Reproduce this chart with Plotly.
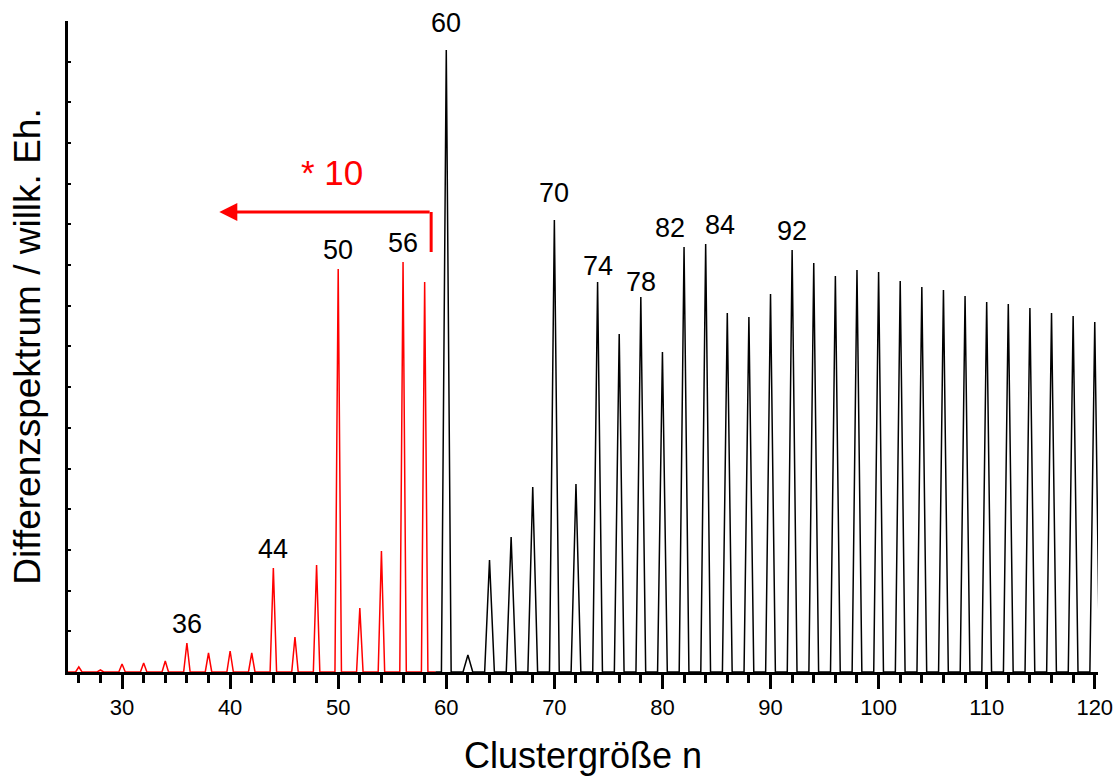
import plotly.graph_objects as go

# Cluster sizes and peak heights (arbitrary units)
red_n = [26, 28, 30, 32, 34, 36, 38, 40, 42, 44, 46, 48, 50, 52, 54, 56, 58]
red_h = [5, 2, 8, 9, 11, 29, 19, 21, 19, 104, 35, 107, 403, 64, 121, 410, 390]
black_n = [60, 62, 64, 66, 68, 70, 72, 74, 76, 78, 80, 82, 84, 86, 88, 90, 92, 94,
           96, 98, 100, 102, 104, 106, 108, 110, 112, 114, 116, 118, 120]
black_h = [622, 17, 112, 135, 185, 452, 188, 390, 338, 375, 320, 425, 428, 359, 355,
           378, 422, 409, 396, 402, 400, 391, 385, 382, 376, 370, 368, 364, 359, 356, 350]

label_n = [36, 44, 50, 56, 60, 70, 74, 78, 82, 84, 92]
label_dx = [0, 0, 0, 0, 0, 0, 0, 0, -14, 14, 0]
label_dy = [0, 0, 0, 0, 8, 8, -3, -4, 0, 0, 0]
x_ticks = [30, 40, 50, 60, 70, 80, 90, 100, 110, 120]


def peaks(ns, hs, hw):
    xs, ys = [], []
    for n, h in zip(ns, hs):
        xs += [n - hw, n, n + hw]
        ys += [0, h, 0]
    return xs, ys


rx, ry = peaks(red_n, red_h, 0.3)
bx, by = peaks(black_n, black_h, 0.45)

FONT = "Liberation Sans, Arial"

fig = go.Figure()
fig.add_trace(go.Scatter(x=[25] + rx + [59], y=[0] + ry + [0], mode="lines",
                         line=dict(color="red", width=1.5), showlegend=False))
fig.add_trace(go.Scatter(x=[59] + bx + [121], y=[0] + by + [0], mode="lines",
                         line=dict(color="black", width=1.5), showlegend=False))

allh = dict(zip(red_n + black_n, red_h + black_h))
for n, dx, dy in zip(label_n, label_dx, label_dy):
    fig.add_annotation(x=n, y=allh[n], text=str(n), showarrow=False, yanchor="bottom",
                       yshift=2 + dy, xshift=dx, font=dict(size=27, color="black", family=FONT))

# "* 10" marker with arrow
fig.add_shape(type="line", x0=58.6, x1=58.6, y0=420, y1=460,
              line=dict(color="red", width=3))
fig.add_annotation(x=39.0, y=460, ax=58.6, ay=460, xref="x", yref="y", axref="x", ayref="y",
                   text="", showarrow=True, arrowhead=2, arrowsize=1.2, arrowwidth=3,
                   arrowcolor="red")
fig.add_annotation(x=49.4, y=500, text="* 10", showarrow=False,
                   font=dict(size=35, color="red", family=FONT))

fig.update_layout(
    width=1113, height=776,
    margin=dict(l=68, r=15, t=21, b=104),
    plot_bgcolor="white", paper_bgcolor="white",
    font=dict(family=FONT, color="black"),
)
fig.update_xaxes(range=[25, 120.3], tickvals=x_ticks, ticks="outside", ticklen=14,
                 tickwidth=3, tickcolor="black", showline=True, linewidth=3, linecolor="black",
                 showgrid=False, zeroline=False, tickfont=dict(size=22), automargin=False,
                 ticklabeloverflow="allow",
                 minor=dict(dtick=2, tick0=0, ticks="outside", ticklen=8, tickwidth=3,
                            tickcolor="black", showgrid=False),
                 title=dict(text="Clustergröße n", font=dict(size=36), standoff=35))
fig.update_yaxes(range=[0, 651], dtick=40.7, ticks="inside", ticklen=3, tickwidth=2,
                 tickcolor="black", showticklabels=False, showline=True, linewidth=3,
                 linecolor="black", showgrid=False, zeroline=False, automargin=False,
                 title=dict(text="Differenzspektrum / willk. Eh.", font=dict(size=37), standoff=14))

fig.write_html("out.html")
